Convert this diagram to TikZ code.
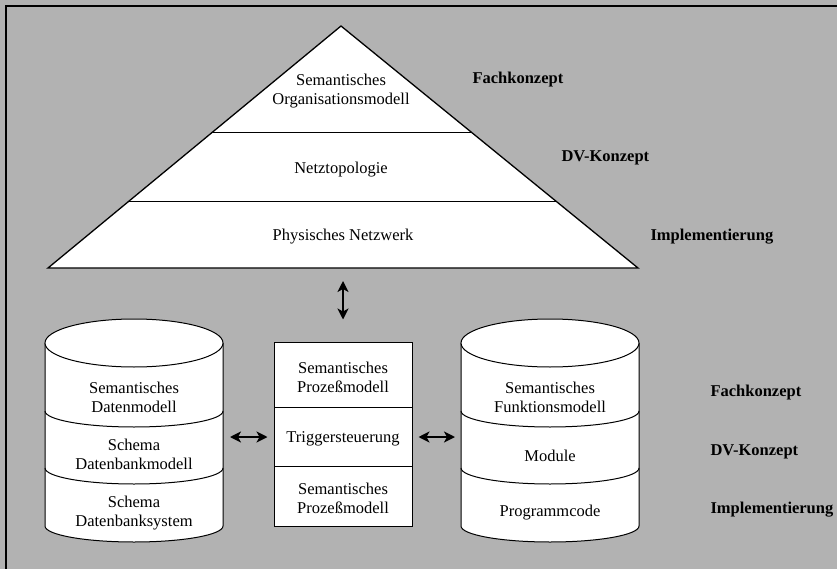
\documentclass[tikz,border=0pt]{standalone}
\usepackage{fontspec}
\setmainfont{Liberation Serif}
\usetikzlibrary{calc}
\usetikzlibrary{arrows.meta}
\tikzset{
	layer/.style = {font=\fontsize{16.5}{19}\selectfont, align=center, inner sep=0pt},
	level/.style = {font=\fontsize{16.5}{19}\selectfont\bfseries, anchor=west, inner sep=0pt},
	link/.style = {{Stealth[length=11pt,width=11pt,inset=3pt]}-{Stealth[length=11pt,width=11pt,inset=3pt]}, line width=1.8pt}
}

\begin{document}
\begin{tikzpicture}[x = 1pt, y = -1pt, line width = 1pt]
	\useasboundingbox (0,0) rectangle (837,569);
	\fill [black!30](0,0) rectangle (837,569);
	\draw [line width = 1.5pt](6,569) |- (837,6);

	% pyramid
	\coordinate (apex) at (341,26);
	\coordinate (pl) at (48,268);
	\coordinate (pr) at (638,268);
	\coordinate (pbase) at (343,268);
	\draw [fill = white, line width = 1.3pt](apex) -- (pl) -- (pr) -- cycle;
	\foreach \f in {0.442,0.727}{
			\draw ($(apex)!\f!(pl)$) -- ($(apex)!\f!(pr)$);
		}
	\node [layer] (orga) at (341,91) {Semantisches\\Organisationsmodell};
	\node [layer] (topo) at (341,170) {Netztopologie};
	\node [layer] (phys) at (343,237) {Physisches Netzwerk};
	\node [level] (fach1) at (472,80) {Fachkonzept};
	\node [level] (dv1) at (561,158) {DV-Konzept};
	\node [level] (impl1) at (650,237) {Implementierung};

	% cylinders
	\foreach \cx in {134,550}{
			\draw [fill = white](\cx-89,343) -- (\cx-89,526) arc [start angle = 180, end angle = 0, x radius = 89, y radius = 16] -- (\cx+89,343);
			\draw [fill = white](\cx,343) ellipse [x radius = 89, y radius = 24];
			\foreach \y in {411,468}{
					\draw (\cx-89,\y) arc [start angle = 180, end angle = 0, x radius = 89, y radius = 16];
				}
		}
	\coordinate (dbright) at (223,437);
	\coordinate (fnleft) at (461,437);
	\node [layer] (daten) at (134,397) {Semantisches\\Datenmodell};
	\node [layer] (dbmod) at (134,454) {Schema\\Datenbankmodell};
	\node [layer] (dbsys) at (134,513) {Schema\\Datenbanksystem};
	\node [layer] (funk) at (550,397) {Semantisches\\Funktionsmodell};
	\node [layer] (modul) at (550,456) {Module};
	\node [layer] (code) at (550,513) {Programmcode};

	% process box
	\node [draw, fill = white, minimum width = 138pt, minimum height = 184pt] (box) at (343,434) {};
	\draw (274,407) -- (412,407);
	\draw (274,466) -- (412,466);
	\node [layer] (proz1) at (343,377) {Semantisches\\Prozeßmodell};
	\node [layer] (trig) at (343,439) {Triggersteuerung};
	\node [layer] (proz2) at (343,498) {Semantisches\\Prozeßmodell};

	\node [level] (fach2) at (710,393) {Fachkonzept};
	\node [level] (dv2) at (710,452) {DV-Konzept};
	\node [level] (impl2) at (710,510) {Implementierung};

	\draw [link, shorten < = 13pt, shorten > = 22pt](pbase) -- (box.north);
	\draw [link, shorten < = 7pt, shorten > = 6pt](dbright) -- (box.west |- dbright);
	\draw [link, shorten < = 6pt, shorten > = 6pt](box.east |- fnleft) -- (fnleft);
\end{tikzpicture}
\end{document}
